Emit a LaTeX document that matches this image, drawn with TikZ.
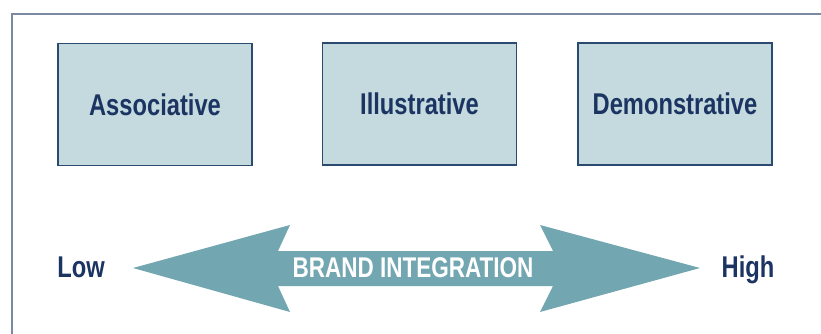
\documentclass[tikz,border=0pt]{standalone}
\usepackage{fontspec}
\setmainfont[FakeStretch=0.79]{Liberation Sans}
\definecolor{navy}{HTML}{1B3461}
\definecolor{boxfill}{HTML}{C4DADF}
\definecolor{boxline}{HTML}{2B4A70}
\definecolor{arrowfill}{HTML}{72A6B0}
\definecolor{frameline}{HTML}{7A8AA3}
\begin{document}
\begin{tikzpicture}[x=1pt,y=-1pt,
    typebox/.style={draw=boxline,line width=1.3pt,fill=boxfill,
        minimum width=194pt,minimum height=122pt,text=navy,
        font=\fontsize{30}{32}\selectfont\bfseries},
    endlabel/.style={anchor=base,text=navy,inner sep=0pt,
        font=\fontsize{30}{32}\selectfont\bfseries}]
    \useasboundingbox (0,0) rectangle (821,334);
    % frame along the top and left edge
    \draw[frameline,line width=2pt] (12,334) -- (12,14) -- (821,14);
    % the three kinds of placement
    \node[typebox] (assoc) at (155,104.5) {Associative};
    \node[typebox] (illus) at (419.5,104) {Illustrative};
    \node[typebox] (demo) at (675,104) {Demonstrative};
    % double arrow with notched heads
    \fill[arrowfill] (133,268) -- (290,225) -- (278,251) -- (553,251)
        -- (540,225) -- (700,268) -- (540,312) -- (553,286)
        -- (278,286) -- (290,312) -- cycle;
    \node[anchor=base,text=white,inner sep=0pt,
        font=\fontsize{28.5}{30}\selectfont\bfseries] (brand) at (413,277.5) {BRAND INTEGRATION};
    \node[endlabel] (low) at (81,277.5) {Low};
    \node[endlabel] (high) at (748,277.5) {High};
\end{tikzpicture}
\end{document}
